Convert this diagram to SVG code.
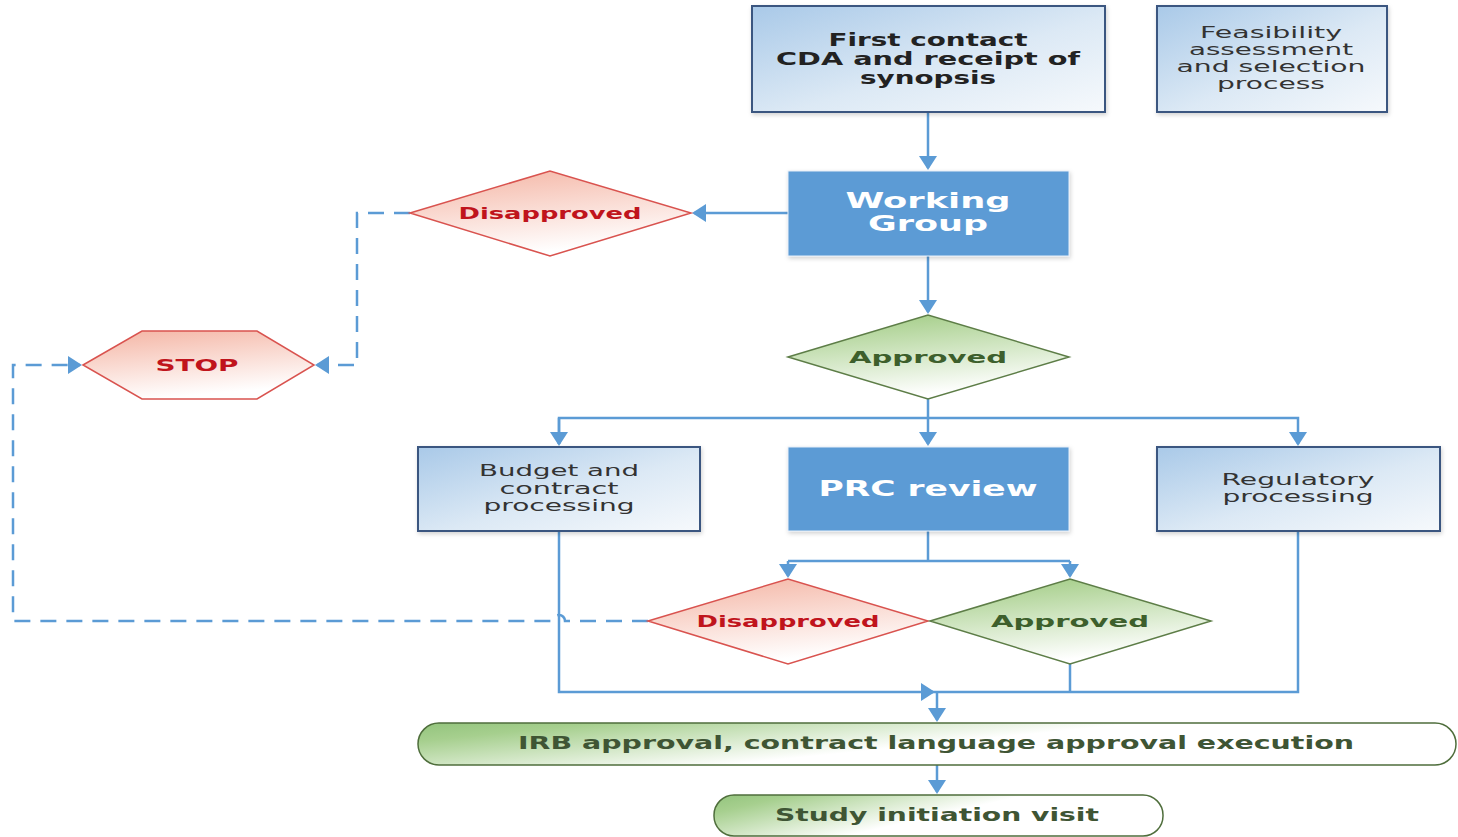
<svg xmlns="http://www.w3.org/2000/svg" width="1458" height="837" viewBox="0 0 1458 837">
<style>
.box{fill:url(#gBlue);stroke:#3a5680;stroke-width:2}
.dark{fill:#5b9bd5;stroke:#e6eef8;stroke-width:1}
.red{fill:url(#gRed);stroke:#d9534f;stroke-width:1.5}
.grn{fill:url(#gGrn);stroke:#5d7d47;stroke-width:1.5}
.pill{fill:url(#gPill);stroke:#4f6e3c;stroke-width:1.5}
.t{font-family:"DejaVu Sans",sans-serif;text-anchor:middle}
.tb{font-weight:bold;fill:#222;font-size:17px}
.tn{fill:#333;font-size:15px}
.tw{font-weight:bold;fill:#ffffff;font-size:21px}
.tr{font-weight:bold;fill:#c0141c;font-size:16px}
.tg{font-weight:bold;fill:#3d5f2c;font-size:16px}
.tp{font-weight:bold;fill:#3f5534;font-size:17px}
.c{fill:none;stroke:#5b9bd5;stroke-width:2.5}
.d{fill:none;stroke:#5b9bd5;stroke-width:2.5;stroke-dasharray:16 10}
</style>
<defs>
<linearGradient id="gBlue" x1="0" y1="0" x2="1" y2="1">
<stop offset="0" stop-color="#a9c9e8"/><stop offset="0.55" stop-color="#dce9f5"/><stop offset="1" stop-color="#f6f9fc"/>
</linearGradient>
<linearGradient id="gRed" x1="0" y1="0" x2="0.3" y2="1">
<stop offset="0" stop-color="#f4b4a3"/><stop offset="1" stop-color="#ffffff"/>
</linearGradient>
<linearGradient id="gGrn" x1="0" y1="0" x2="0.3" y2="1">
<stop offset="0" stop-color="#9cc97d"/><stop offset="1" stop-color="#ffffff"/>
</linearGradient>
<linearGradient id="gPill" x1="0" y1="0" x2="1" y2="0.4">
<stop offset="0" stop-color="#93c47d"/><stop offset="0.15" stop-color="#a6cf8e"/><stop offset="0.6" stop-color="#ffffff"/><stop offset="1" stop-color="#ffffff"/>
</linearGradient>
<filter id="sh" x="-5%" y="-5%" width="112%" height="120%">
<feDropShadow dx="1" dy="2" stdDeviation="2" flood-color="#000" flood-opacity="0.18"/>
</filter>
<marker id="ah" markerWidth="14" markerHeight="18" refX="12" refY="9" orient="auto" markerUnits="userSpaceOnUse">
<path d="M0,0 L14,9 L0,18 Z" fill="#5b9bd5"/>
</marker>
</defs>

<g id="connectors">
<path class="c" d="M928,112 V168" marker-end="url(#ah)"/>
<path class="c" d="M788,213 H694" marker-end="url(#ah)"/>
<path class="d" d="M410,213 H357 V365 H317" marker-end="url(#ah)"/>
<path class="c" d="M928,256 V312" marker-end="url(#ah)"/>
<path class="c" d="M928,399 V444" marker-end="url(#ah)"/>
<path class="c" d="M559,444 V418 H1298 V444" marker-end="url(#ah)"/>
<path class="c" d="M559,418 V444" marker-end="url(#ah)"/>
<path class="c" d="M928,531 V561 M788,561 H1070"/>
<path class="c" d="M788,561 V576" marker-end="url(#ah)"/>
<path class="c" d="M1070,561 V576" marker-end="url(#ah)"/>
<path class="d" d="M648,621 H565 A6,6 0 0 0 553,621 H13 V365 H80" marker-end="url(#ah)"/>
<path class="c" d="M559,531 V692 H933" marker-end="url(#ah)"/>
<path class="c" d="M1070,664 V692 M1298,531 V692 H930"/>
<path class="c" d="M937,692 V720" marker-end="url(#ah)"/>
<path class="c" d="M937,765 V792" marker-end="url(#ah)"/>
</g>

<g id="first-contact">
<rect class="box" x="752" y="6" width="353" height="106" filter="url(#sh)"/>
<text class="t tb" x="928" y="46" textLength="199" lengthAdjust="spacingAndGlyphs">First contact</text>
<text class="t tb" x="928" y="65" textLength="304" lengthAdjust="spacingAndGlyphs">CDA and receipt of</text>
<text class="t tb" x="928" y="84" textLength="136" lengthAdjust="spacingAndGlyphs">synopsis</text>
</g>

<g id="feasibility">
<rect class="box" x="1157" y="6" width="230" height="106" filter="url(#sh)"/>
<text class="t tn" x="1271" y="38" textLength="142" lengthAdjust="spacingAndGlyphs">Feasibility</text>
<text class="t tn" x="1271" y="55" textLength="164" lengthAdjust="spacingAndGlyphs">assessment</text>
<text class="t tn" x="1271" y="72" textLength="189" lengthAdjust="spacingAndGlyphs">and selection</text>
<text class="t tn" x="1271" y="89" textLength="108" lengthAdjust="spacingAndGlyphs">process</text>
</g>

<g id="working-group">
<rect class="dark" x="788" y="171" width="281" height="85" filter="url(#sh)"/>
<text class="t tw" x="928" y="208" textLength="165" lengthAdjust="spacingAndGlyphs">Working</text>
<text class="t tw" x="928" y="231" textLength="120" lengthAdjust="spacingAndGlyphs">Group</text>
</g>

<g id="disapproved-1">
<polygon class="red" points="410,213 550,171 691,213 550,256"/>
<text class="t tr" x="550" y="219" textLength="183" lengthAdjust="spacingAndGlyphs">Disapproved</text>
</g>

<g id="stop">
<polygon class="red" points="83,365 142,331 257,331 314,365 257,399 142,399"/>
<text class="t tr" x="197" y="371" textLength="83" lengthAdjust="spacingAndGlyphs">STOP</text>
</g>

<g id="approved-1">
<polygon class="grn" points="788,357 928,315 1069,357 928,399"/>
<text class="t tg" x="928" y="363" textLength="158" lengthAdjust="spacingAndGlyphs">Approved</text>
</g>

<g id="budget">
<rect class="box" x="418" y="447" width="282" height="84" filter="url(#sh)"/>
<text class="t tn" x="559" y="476" textLength="160" lengthAdjust="spacingAndGlyphs">Budget and</text>
<text class="t tn" x="559" y="494" textLength="119" lengthAdjust="spacingAndGlyphs">contract</text>
<text class="t tn" x="559" y="511" textLength="151" lengthAdjust="spacingAndGlyphs">processing</text>
</g>

<g id="prc-review">
<rect class="dark" x="788" y="447" width="281" height="84" filter="url(#sh)"/>
<text class="t tw" x="928" y="496" textLength="219" lengthAdjust="spacingAndGlyphs">PRC review</text>
</g>

<g id="regulatory">
<rect class="box" x="1157" y="447" width="283" height="84" filter="url(#sh)"/>
<text class="t tn" x="1298" y="485" textLength="153" lengthAdjust="spacingAndGlyphs">Regulatory</text>
<text class="t tn" x="1298" y="502" textLength="151" lengthAdjust="spacingAndGlyphs">processing</text>
</g>

<g id="disapproved-2">
<polygon class="red" points="648,621 788,579 928,621 788,664"/>
<text class="t tr" x="788" y="627" textLength="183" lengthAdjust="spacingAndGlyphs">Disapproved</text>
</g>

<g id="approved-2">
<polygon class="grn" points="930,621 1070,579 1211,621 1070,664"/>
<text class="t tg" x="1070" y="627" textLength="158" lengthAdjust="spacingAndGlyphs">Approved</text>
</g>

<g id="irb">
<rect class="pill" x="418" y="723" width="1038" height="42" rx="21" ry="21"/>
<text class="t tp" x="936" y="749" textLength="836" lengthAdjust="spacingAndGlyphs">IRB approval, contract language approval execution</text>
</g>

<g id="study-initiation">
<rect class="pill" x="714" y="795" width="449" height="41" rx="20" ry="20"/>
<text class="t tp" x="937" y="821" textLength="324" lengthAdjust="spacingAndGlyphs">Study initiation visit</text>
</g>
</svg>
